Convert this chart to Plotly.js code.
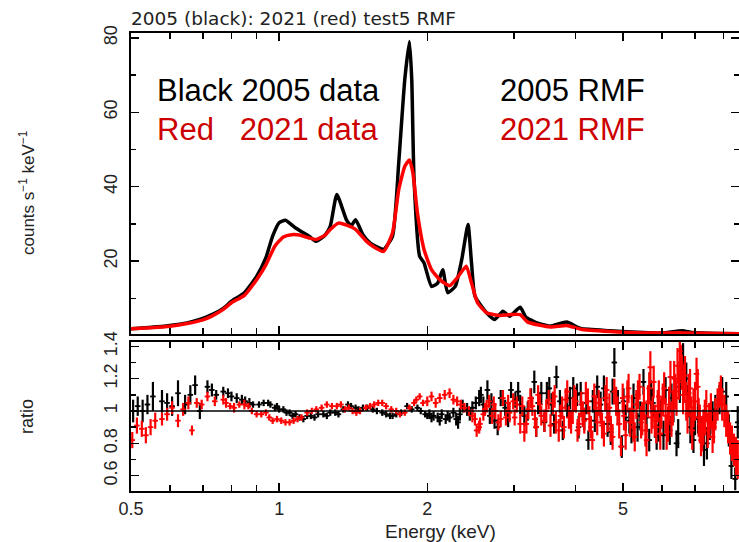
<!DOCTYPE html>
<html>
<head>
<meta charset="utf-8">
<script src="https://cdn.plot.ly/plotly-3.0.1.min.js"></script>
<style>
html,body{margin:0;padding:0;background:#fff;overflow:hidden;}
#chart{width:739px;height:542px;}
</style>
</head>
<body>
<div id="chart"></div>
<script>
// ---------- DATA ----------
// Top panel: counts s^-1 keV^-1 vs energy (keV)
const blackE = [0.50,0.55,0.60,0.65,0.69,0.73,0.77,0.80,0.85,0.90,0.94,0.97,1.00,1.03,1.08,1.15,1.19,1.24,1.27,1.31,1.37,1.40,1.43,1.48,1.53,1.60,1.63,1.70,1.75,1.80,1.84,1.86,1.88,1.93,1.97,2.04,2.10,2.15,2.20,2.28,2.35,2.42,2.46,2.50,2.64,2.74,2.85,2.94,3.09,3.17,3.34,3.55,3.84,4.10,4.70,5.50,6.00,6.60,6.90,7.50,8.60];
const blackCounts = [1.8,2.2,2.7,3.4,4.3,5.6,7.3,9.2,11.5,15.9,20.9,26.7,30.3,31.0,28.9,26.7,25.3,27.0,29.3,37.9,31.1,29.5,31.1,27.1,24.9,23.5,23.1,26.7,46.4,68.7,79.0,68.7,41.9,21.3,19.5,13.2,14.1,17.7,11.5,13.2,20.4,29.8,19.5,10.6,6.1,4.3,6.5,5.2,7.6,5.0,3.4,2.5,3.6,1.9,1.3,0.8,0.7,1.3,0.8,0.6,0.5];

const redE = [0.50,0.55,0.60,0.65,0.70,0.73,0.77,0.80,0.85,0.90,0.94,0.98,1.02,1.06,1.10,1.15,1.19,1.24,1.27,1.32,1.38,1.43,1.50,1.55,1.63,1.70,1.75,1.80,1.84,1.87,1.91,1.97,2.04,2.12,2.22,2.30,2.40,2.46,2.53,2.64,2.81,2.94,3.09,3.20,3.56,3.84,4.10,4.70,5.50,6.60,8.60];
const redCounts = [1.8,2.1,2.5,3.2,4.2,5.2,7.0,8.8,10.8,15.0,19.0,24.0,26.5,27.1,27.0,26.2,25.8,27.0,28.5,30.2,29.5,28.5,25.5,24.0,22.6,27.6,39.2,45.4,47.2,43.7,32.9,23.1,17.7,15.0,13.4,15.5,18.6,14.1,8.8,6.1,5.4,5.6,5.6,3.6,2.3,2.7,1.7,1.1,0.7,0.7,0.5];

// Bottom panel: data/model ratio (energy, ratio, 1-sigma error)
const blackRatioE = [0.505,0.516,0.528,0.54,0.554,0.578,0.592,0.606,0.623,0.644,0.66,0.675,0.69,0.715,0.73,0.745,0.77,0.787,0.82,0.853,0.885,0.93,0.96,0.99,1.02,1.05,1.08,1.12,1.16,1.20,1.27,1.32,1.38,1.43,1.48,1.55,1.62,1.68,1.73,1.82,1.91,1.98,
0.80,0.84,0.87,0.91,0.95,0.98,1.00,1.035,1.065,1.10,1.14,1.18,1.23,1.25,1.30,1.35,1.40,1.45,1.51,1.58,1.65,1.70,1.77,1.86,1.94,2.00,
2.02,2.06,2.10,2.14,2.18,2.22,2.26,2.29,2.33,2.36,2.41,2.47,2.51,2.55,2.60,2.65,2.70,2.74,2.78,2.82,2.88,2.96,3.02,3.09,3.15,3.20,3.25,3.30,3.36,3.41,3.46,3.50,3.58,3.66,3.72,3.77,3.85,3.96,4.03,4.10,4.17,4.25,4.34,4.43,4.50,4.57,4.65,4.72,4.80,4.88,4.97,5.06,5.15,5.25,5.35,5.50,5.58,5.65,5.75,5.85,5.97,6.10,6.22,6.33,6.42,6.52,6.62,6.72,6.85,6.95,7.10,7.30,7.50,7.70,7.85,8.10,8.30,8.45,8.55,
2.04,2.12,2.20,2.31,2.44,2.57,2.68,2.92,3.06,3.33,3.54,3.62,3.90,4.06,4.21,4.38,4.61,4.76,5.01,5.20,5.42,5.70,5.91,6.04,6.27,6.47,6.78,7.00,7.20,7.40,7.60,7.95,8.20];
const blackRatio = [1.00,1.03,1.00,1.04,1.09,1.06,1.05,1.03,1.11,1.04,1.10,1.16,1.00,1.15,1.13,1.10,1.12,1.11,1.08,1.06,1.04,1.05,1.04,1.03,1.01,0.99,0.98,0.95,0.97,0.98,0.99,0.98,1.04,1.02,1.02,1.01,0.99,0.97,0.98,1.03,1.02,0.98,
1.09,1.07,1.05,1.04,1.05,1.02,1.01,0.99,0.97,0.96,0.97,0.96,0.98,0.97,0.99,1.01,1.03,1.01,1.02,1.00,0.98,0.97,0.99,1.01,1.00,0.97,
0.98,0.97,0.96,0.98,0.95,0.96,0.99,0.95,0.98,1.03,1.01,1.02,1.05,1.08,1.04,1.13,1.06,0.94,0.90,1.08,1.02,1.13,1.07,1.04,0.97,1.00,1.08,1.18,1.05,1.11,0.93,1.11,1.04,1.21,1.06,0.88,1.03,1.14,1.10,1.11,0.95,0.82,1.06,1.15,1.04,1.14,0.92,0.87,1.30,1.05,0.78,0.96,0.94,1.08,0.90,1.18,0.96,0.82,1.05,0.84,0.98,1.13,0.88,1.02,0.80,1.15,1.32,1.20,0.90,0.82,0.96,0.76,0.92,1.01,1.07,1.09,0.66,0.58,0.93,
0.96,0.94,0.97,0.93,0.98,1.10,0.97,0.95,1.12,0.90,1.14,0.92,1.08,0.90,1.05,0.94,1.08,1.12,1.06,0.88,0.97,1.10,0.90,0.85,1.08,0.86,1.06,0.95,0.86,0.80,0.96,1.12,0.88];
const blackRatioErr = [0.07,0.06,0.07,0.06,0.09,0.07,0.06,0.06,0.08,0.06,0.06,0.06,0.05,0.04,0.04,0.03,0.03,0.03,0.03,0.03,0.02,0.02,0.02,0.02,0.02,0.02,0.02,0.02,0.02,0.02,0.02,0.02,0.02,0.02,0.02,0.02,0.02,0.02,0.02,0.02,0.02,0.02,
0.03,0.03,0.03,0.02,0.02,0.02,0.02,0.02,0.02,0.02,0.02,0.02,0.02,0.02,0.02,0.02,0.02,0.02,0.02,0.02,0.02,0.02,0.02,0.02,0.02,0.02,
0.03,0.03,0.03,0.03,0.03,0.03,0.03,0.04,0.04,0.04,0.04,0.04,0.04,0.05,0.05,0.06,0.05,0.05,0.05,0.05,0.05,0.05,0.05,0.06,0.06,0.06,0.06,0.07,0.07,0.07,0.06,0.07,0.07,0.07,0.07,0.06,0.07,0.07,0.07,0.07,0.07,0.06,0.07,0.07,0.08,0.08,0.08,0.08,0.09,0.08,0.07,0.08,0.08,0.09,0.09,0.08,0.09,0.07,0.09,0.08,0.09,0.08,0.09,0.09,0.08,0.10,0.10,0.10,0.10,0.08,0.10,0.10,0.10,0.09,0.09,0.09,0.08,0.07,0.10,
0.03,0.03,0.03,0.04,0.04,0.05,0.05,0.05,0.06,0.06,0.07,0.06,0.07,0.07,0.07,0.07,0.08,0.08,0.08,0.08,0.09,0.09,0.09,0.09,0.09,0.09,0.10,0.10,0.10,0.10,0.10,0.09,0.10];

const redRatioE = [0.503,0.514,0.526,0.536,0.548,0.56,0.578,0.592,0.606,0.623,0.638,0.654,0.665,0.68,0.696,0.715,0.74,0.77,0.795,0.83,0.866,0.90,0.94,0.97,1.01,1.05,1.09,1.14,1.19,1.25,1.31,1.36,1.41,1.46,1.53,1.59,1.65,1.73,1.80,1.88,1.93,
0.78,0.81,0.85,0.88,0.92,0.955,0.99,1.03,1.07,1.11,1.165,1.22,1.28,1.335,1.385,1.435,1.50,1.56,1.62,1.69,1.76,1.84,1.90,1.96,
2.00,2.04,2.08,2.12,2.17,2.22,2.26,2.30,2.34,2.38,2.43,2.47,2.50,2.52,2.56,2.60,2.64,2.67,2.71,2.75,2.79,2.85,2.89,2.94,2.99,3.04,3.09,3.15,3.21,3.27,3.31,3.36,3.41,3.46,3.53,3.60,3.65,3.70,3.76,3.82,3.88,3.95,4.01,4.07,4.14,4.20,4.27,4.33,4.40,4.46,4.53,4.60,4.65,4.72,4.80,4.87,4.95,5.02,5.10,5.17,5.25,5.32,5.40,5.47,5.55,5.62,5.68,5.74,5.80,5.88,5.95,6.02,6.10,6.17,6.24,6.31,6.38,6.45,6.52,6.58,6.65,6.72,6.80,6.88,6.95,7.05,7.12,7.20,7.28,7.38,7.48,7.60,7.70,7.85,7.95,8.10,8.25,8.40,8.55,
2.55,2.62,2.73,2.82,2.92,3.01,3.12,3.18,3.24,3.33,3.39,3.49,3.56,3.63,3.73,3.79,3.85,3.92,3.98,4.04,4.11,4.17,4.24,4.30,4.37,4.43,4.50,4.57,4.63,4.69,4.76,4.84,4.91,4.99,5.06,5.13,5.21,5.28,5.36,5.44,5.51,5.58,5.65,5.71,5.77,5.84,5.91,5.98,6.06,6.13,6.20,6.27,6.35,6.42,6.49,6.55,6.62,6.68,6.76,6.84,6.91,7.00,7.09,7.16,7.24,7.33,7.43,7.54,7.65,7.78,7.90,8.03,8.17,8.32,8.48];
const redRatio = [0.82,0.91,0.89,0.85,0.90,0.94,0.95,0.98,1.02,0.94,1.01,1.05,0.88,1.05,1.04,1.09,1.06,1.07,1.03,1.04,1.03,0.98,0.99,0.94,0.94,0.93,0.95,0.99,1.01,1.04,1.03,1.01,1.00,1.00,1.03,1.05,1.03,1.00,0.99,1.05,1.09,
1.05,1.02,1.04,1.00,0.98,0.96,0.95,0.93,0.94,0.96,1.00,1.02,1.03,1.04,1.02,0.99,1.02,1.04,1.05,1.01,0.98,1.02,1.07,1.05,
1.06,1.09,1.05,1.08,1.10,1.11,1.07,1.06,1.04,1.02,1.00,0.97,0.95,0.88,0.92,0.98,1.03,1.06,0.97,1.00,0.93,1.08,0.96,0.99,1.06,1.04,0.92,0.87,1.01,1.03,0.95,1.10,0.97,0.94,1.07,1.05,0.93,0.88,1.02,1.07,0.96,1.00,1.06,0.92,0.98,1.11,0.95,0.82,1.02,1.05,0.91,1.08,0.96,0.89,1.12,1.00,0.78,0.97,1.09,0.93,0.90,1.04,1.15,0.95,0.88,1.06,1.27,0.99,0.94,1.03,0.86,1.07,0.97,0.92,1.21,1.02,1.12,1.28,1.37,1.24,1.17,1.06,1.11,0.97,1.02,1.23,0.96,0.82,0.90,1.03,0.94,0.84,0.98,1.10,1.04,0.94,0.83,0.76,0.70,
0.90,1.01,1.04,0.95,1.05,0.96,1.03,0.92,1.08,0.90,1.04,1.00,0.91,1.09,0.97,0.90,1.12,0.93,1.08,0.88,1.04,0.94,1.06,0.90,1.09,0.93,1.00,0.86,1.13,1.02,0.84,1.06,0.92,1.08,0.85,1.14,1.01,0.84,1.10,0.93,1.05,0.82,1.14,0.96,1.18,0.90,1.09,0.99,1.14,0.87,1.04,0.95,1.20,1.08,1.18,1.30,1.10,1.22,0.98,1.14,0.88,1.06,1.15,0.92,0.86,0.96,0.88,1.00,0.90,1.04,1.13,1.00,0.90,0.80,0.72];
const redRatioErr = [0.05,0.05,0.05,0.05,0.05,0.05,0.04,0.04,0.04,0.04,0.04,0.04,0.03,0.03,0.03,0.03,0.03,0.03,0.02,0.02,0.02,0.02,0.02,0.02,0.02,0.02,0.02,0.02,0.02,0.02,0.02,0.02,0.02,0.02,0.02,0.02,0.02,0.02,0.02,0.02,0.02,
0.03,0.03,0.03,0.02,0.02,0.02,0.02,0.02,0.02,0.02,0.02,0.02,0.02,0.02,0.02,0.02,0.02,0.02,0.02,0.02,0.02,0.02,0.02,0.02,
0.03,0.03,0.03,0.03,0.03,0.03,0.03,0.03,0.03,0.03,0.03,0.04,0.04,0.04,0.04,0.04,0.04,0.04,0.05,0.05,0.05,0.05,0.05,0.06,0.05,0.05,0.06,0.06,0.06,0.06,0.06,0.06,0.06,0.07,0.06,0.07,0.07,0.07,0.07,0.07,0.07,0.08,0.07,0.07,0.08,0.07,0.08,0.06,0.08,0.08,0.08,0.08,0.09,0.08,0.08,0.09,0.06,0.09,0.10,0.09,0.09,0.09,0.08,0.10,0.10,0.10,0.10,0.10,0.10,0.10,0.10,0.10,0.11,0.11,0.10,0.11,0.11,0.11,0.10,0.11,0.12,0.12,0.12,0.12,0.12,0.10,0.12,0.10,0.11,0.10,0.11,0.10,0.10,0.08,0.10,0.10,0.10,0.10,0.12,
0.04,0.04,0.05,0.05,0.05,0.05,0.06,0.06,0.06,0.06,0.06,0.07,0.07,0.07,0.07,0.07,0.07,0.07,0.08,0.07,0.08,0.08,0.08,0.07,0.08,0.08,0.08,0.08,0.08,0.09,0.08,0.09,0.09,0.09,0.09,0.09,0.09,0.09,0.09,0.10,0.10,0.10,0.10,0.10,0.10,0.10,0.10,0.10,0.10,0.11,0.11,0.11,0.11,0.11,0.11,0.11,0.12,0.12,0.12,0.12,0.12,0.12,0.11,0.12,0.11,0.11,0.11,0.11,0.10,0.10,0.09,0.10,0.10,0.11,0.12];

// Tick labels
const xMajorTicks = [0.5,1,2,5];
const xMajorLabels = ["0.5","1","2","5"];
const xMinorTicks = [0.6,0.7,0.8,0.9,3,4,6,7,8];
const yTopTicks = [20,40,60,80];
const yTopLabels = ["20","40","60","80"];
const yTopMinor = [10,30,50,70];
const yBotTicks = [0.6,0.8,1,1.2,1.4];
const yBotLabels = ["0.6","0.8","1","1.2","1.4"];
const yBotMinor = [0.7,0.9,1.1,1.3];

const titleText = "2005 (black): 2021 (red) test5 RMF";
const xTitle = "Energy (keV)";
const yTopTitle = "counts s<sup>\u22121</sup> keV<sup>\u22121</sup>";
const yBotTitle = "ratio";
const noteBlackData = "Black 2005 data";
const noteRedData = "Red\u00a0\u00a0\u00a02021 data";
const noteBlackRmf = "2005 RMF";
const noteRedRmf = "2021 RMF";

// ---------- STYLE / LAYOUT ----------
const W = 739, H = 542;
const M = {l:131, r:0, t:33, b:51};
const plotH = H - M.t - M.b, plotW = W - M.l - M.r;
const px2x = p => (p - M.l) / plotW;
const py2y = p => (H - M.b - p) / plotH;

const RED = "#ff0000";
const TXTRED = "#cc0000";
const FONT = "Liberation Sans, Arial, sans-serif";

const ratioTrace = (xs, ys, errs, color) => ({
  x: xs, y: ys, xaxis:'x2', yaxis:'y2', mode:'markers',
  marker:{color:color, size:2.5},
  error_y:{type:'data', array: errs, color:color, thickness:2.2, width:0},
  error_x:{type:'percent', value:1.3, color:color, thickness:1.8, width:0}, hoverinfo:'skip'
});

const traces = [
  {x: blackE, y: blackCounts, xaxis:'x', yaxis:'y', mode:'lines', line:{color:'#000', width:3.5, shape:'spline', smoothing:0.5}, hoverinfo:'skip'},
  {x: redE, y: redCounts, xaxis:'x', yaxis:'y', mode:'lines', line:{color:RED, width:3.5, shape:'spline', smoothing:0.5}, hoverinfo:'skip'},
  ratioTrace(blackRatioE, blackRatio, blackRatioErr, '#000'),
  ratioTrace(redRatioE, redRatio, redRatioErr, RED)
];

const xRange = [Math.log10(0.5), Math.log10(8.6)];
const commonX = {
  type:'log', range:xRange, tickmode:'array', tickvals:xMajorTicks, ticktext:xMajorLabels,
  ticks:'inside', ticklen:8, tickwidth:1.5, tickcolor:'#000',
  minor:{tickmode:'array', tickvals:xMinorTicks, ticks:'inside', ticklen:6, tickwidth:1.5, tickcolor:'#000', showgrid:false},
  showline:true, linewidth:2, linecolor:'#000', mirror:'allticks',
  showgrid:false, zeroline:false, fixedrange:true,
  tickfont:{family:FONT, size:18, color:'#222'}
};
const commonY = {
  ticks:'inside', ticklen:8, tickwidth:1.5, tickcolor:'#000',
  showline:true, linewidth:2, linecolor:'#000', mirror:'allticks',
  showgrid:false, zeroline:false, fixedrange:true, tickangle:-90, ticklabelstandoff:5,
  tickfont:{family:FONT, size:18, color:'#222'}
};

const layout = {
  width:W, height:H, margin:{l:M.l, r:M.r, t:M.t, b:M.b, pad:0},
  paper_bgcolor:'#fff', plot_bgcolor:'#fff', showlegend:false,
  title:{text:titleText, font:{family:"DejaVu Sans, sans-serif", size:18.5, color:'#222'},
         xref:'paper', x:0, xanchor:'left', yref:'container', y:1-19/H, yanchor:'middle'},
  xaxis:Object.assign({}, commonX, {anchor:'y', domain:[0,1], showticklabels:false}),
  xaxis2:Object.assign({}, commonX, {anchor:'y2', domain:[0,1], showticklabels:true}),
  yaxis:Object.assign({}, commonY, {anchor:'x', domain:[py2y(334),1], range:[0.4,81.3],
    tickmode:'array', tickvals:yTopTicks, ticktext:yTopLabels,
    minor:{tickmode:'array', tickvals:yTopMinor, ticks:'inside', ticklen:5, tickwidth:1.5, tickcolor:'#000', showgrid:false}}),
  yaxis2:Object.assign({}, commonY, {anchor:'x2', domain:[0,py2y(342)], range:[0.505,1.427],
    tickmode:'array', tickvals:yBotTicks, ticktext:yBotLabels,
    minor:{tickmode:'array', tickvals:yBotMinor, ticks:'inside', ticklen:5, tickwidth:1.5, tickcolor:'#000', showgrid:false}}),
  shapes:[
    {type:'line', xref:'paper', x0:0, x1:1, yref:'y2', y0:1, y1:1, line:{color:'#000', width:1.5}, layer:'above'}
  ],
  annotations:[
    {text:noteBlackData, xref:'paper', yref:'paper', x:px2x(155), y:py2y(91), xanchor:'left', yanchor:'middle', showarrow:false, font:{family:FONT, size:31, color:'#000'}},
    {text:noteRedData, xref:'paper', yref:'paper', x:px2x(155), y:py2y(129), xanchor:'left', yanchor:'middle', showarrow:false, font:{family:FONT, size:31, color:TXTRED}},
    {text:noteBlackRmf, xref:'paper', yref:'paper', x:px2x(498), y:py2y(91), xanchor:'left', yanchor:'middle', showarrow:false, font:{family:FONT, size:31, color:'#000'}},
    {text:noteRedRmf, xref:'paper', yref:'paper', x:px2x(498), y:py2y(129), xanchor:'left', yanchor:'middle', showarrow:false, font:{family:FONT, size:31, color:TXTRED}},
    {text:xTitle, xref:'paper', yref:'paper', x:px2x(440), y:py2y(531), xanchor:'center', yanchor:'middle', showarrow:false, font:{family:FONT, size:19, color:'#222'}},
    {text:yTopTitle, xref:'paper', yref:'paper', x:px2x(27), y:py2y(193), xanchor:'center', yanchor:'middle', textangle:-90, showarrow:false, font:{family:FONT, size:17, color:'#222'}},
    {text:yBotTitle, xref:'paper', yref:'paper', x:px2x(27), y:py2y(417), xanchor:'center', yanchor:'middle', textangle:-90, showarrow:false, font:{family:FONT, size:18, color:'#222'}}
  ]
};

Plotly.newPlot('chart', traces, layout, {displayModeBar:false, staticPlot:true});
</script>
</body>
</html>
